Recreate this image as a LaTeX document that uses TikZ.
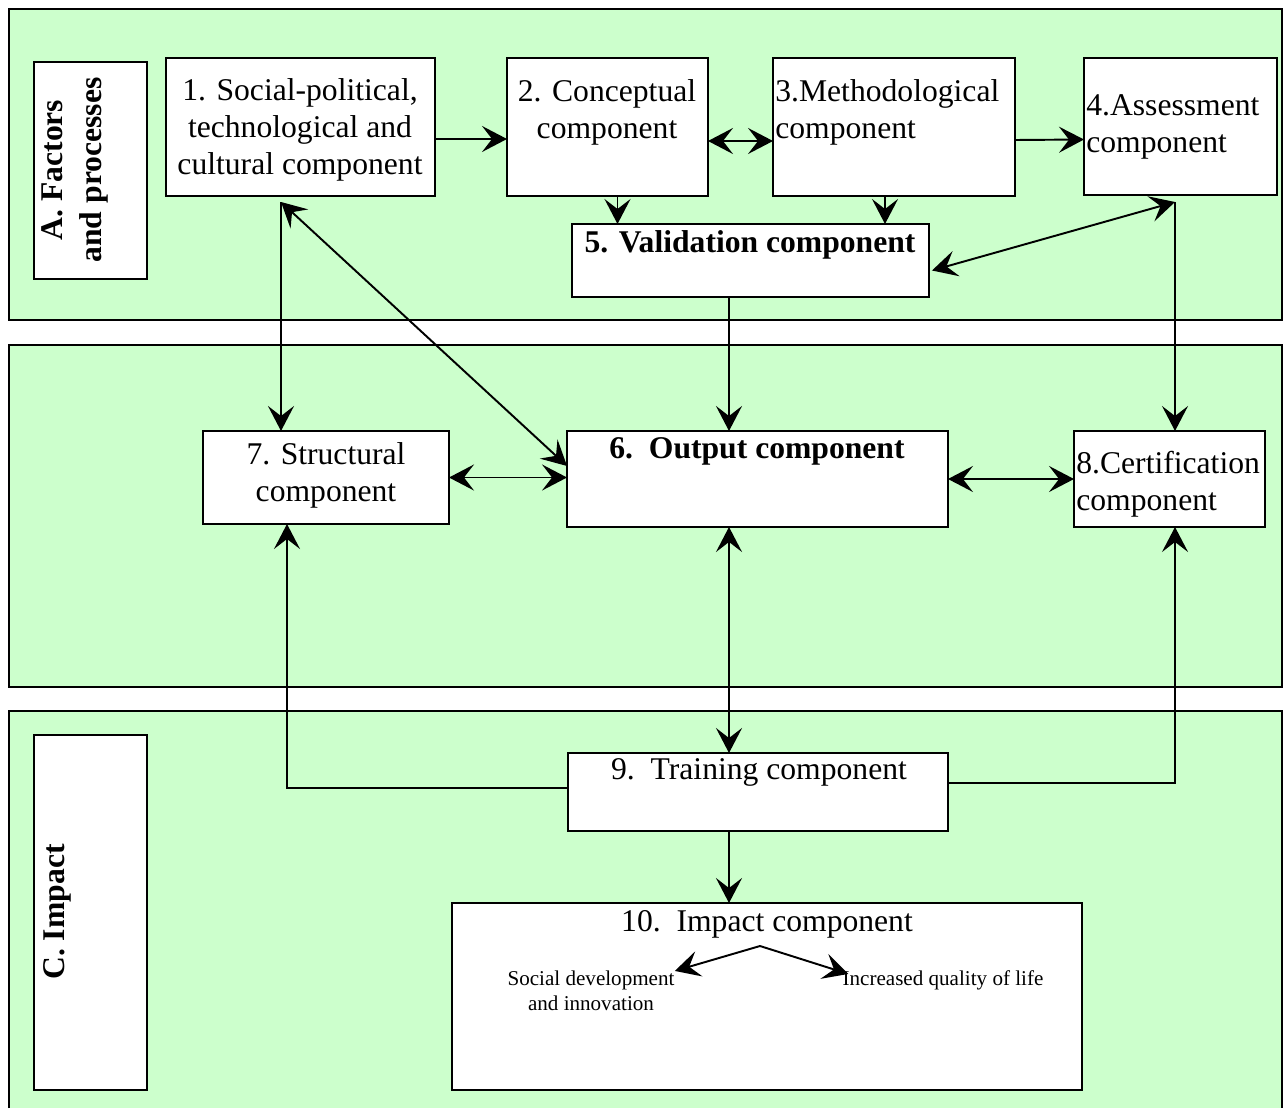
\documentclass[tikz,border=0pt]{standalone}
\usepackage{fontspec}
\setmainfont{Liberation Serif}
\usetikzlibrary{arrows.meta,calc}
\definecolor{panelgreen}{RGB}{204,255,204}

\begin{document}
\begin{tikzpicture}[x=0.02cm,y=-0.02cm,
    >={Stealth[length=0.5cm,width=0.52cm,inset=0.2cm]},
    panel/.style={fill=panelgreen,draw,line width=1.1pt},
    comp/.style={fill=white,draw,line width=1.1pt,inner sep=0pt,outer sep=0pt},
    txt/.style={inner sep=0pt,align=center,font=\fontsize{18}{21}\selectfont},
    boldtxt/.style={txt,font=\fontsize{18}{21}\selectfont\bfseries},
    small/.style={inner sep=0pt,align=center,font=\fontsize{12}{14}\selectfont},
    link/.style={line width=1.1pt}]
      \useasboundingbox (0,0) rectangle (1283,1108);
      % the three bands
      \filldraw[panel] (9,9) rectangle (1282,320);
      \filldraw[panel] (9,345) rectangle (1282,687);
      \fill[panelgreen] (9,711) rectangle (1282,1108);
      \draw[line width=1.1pt] (9,1108) -- (9,711) -- (1282,711) -- (1282,1108);
      % boxes
      \draw
        (90.5,170.5) node[comp,minimum width=2.26cm,minimum height=4.34cm] (la){}
        (90.5,912.5) node[comp,minimum width=2.26cm,minimum height=7.1cm] (lc){}
        (300.5,127) node[comp,minimum width=5.38cm,minimum height=2.76cm] (b1){}
        (607.5,127) node[comp,minimum width=4.02cm,minimum height=2.76cm] (b2){}
        (894,127) node[comp,minimum width=4.84cm,minimum height=2.76cm] (b3){}
        (1180.5,126.5) node[comp,minimum width=3.86cm,minimum height=2.74cm] (b4){}
        (750.5,260.5) node[comp,minimum width=7.14cm,minimum height=1.46cm] (b5){}
        (757.5,479) node[comp,minimum width=7.62cm,minimum height=1.92cm] (b6){}
        (326,477.5) node[comp,minimum width=4.92cm,minimum height=1.86cm] (b7){}
        (1169.5,479) node[comp,minimum width=3.82cm,minimum height=1.92cm] (b8){}
        (758,792) node[comp,minimum width=7.6cm,minimum height=1.56cm] (b9){}
        (767,996.5) node[comp,minimum width=12.6cm,minimum height=3.74cm] (b10){};
      % texts
      \draw
        (75,170) node[txt,rotate=90,font=\fontsize{18}{22}\selectfont\bfseries] (tla){A. Factors\\and processes}
        (57,912) node[txt,rotate=90,font=\fontsize{18}{22}\selectfont\bfseries] (tlc){C. Impact}
        (300,130) node[txt] (t1){1. Social-political,\\technological and\\cultural component}
        (607,112) node[txt] (t2){2. Conceptual\\component}
        (775,112) node[txt,anchor=west,align=left] (t3){3.Methodological\\component}
        (1086,127) node[txt,anchor=west,align=left] (t4){4.Assessment\\component}
        (750,245) node[boldtxt] (t5){5. Validation component}
        (757,451) node[boldtxt] (t6){6.\ \ Output component}
        (326,475) node[txt] (t7){7. Structural\\component}
        (1076,484) node[txt,anchor=west,align=left] (t8){8.Certification\\component}
        (759,772) node[txt] (t9){9.\ \ Training component}
        (767,924) node[txt] (t10){10.\ \ Impact component}
        (591,991) node[small] (tsoc){Social development\\and innovation}
        (943,980) node[small] (tqol){Increased quality of life};
      \coordinate (c1) at (281,202);
      \coordinate (c4) at (1175,202);
      \coordinate (vx) at (729,0);
      \coordinate (apex) at (760,946);
      \begin{scope}[link]
        \draw[->] ($(b1.east)+(0,12)$) -- ($(b2.west)+(0,12)$);
        \draw[<->] ($(b2.east)+(0,14)$) -- ($(b3.west)+(0,14)$);
        \draw[->] ($(b3.east)+(0,13)$) -- ($(b4.west)+(0,13)$);
        \draw[->] ($(b2.south)+(10,0)$) -- ($(b5.north -| b2.south)+(10,0)$);
        \draw[->] ($(b3.south)+(-9,0)$) -- ($(b5.north -| b3.south)+(-9,0)$);
        \draw[<->] ($(b5.east)+(3,10)$) -- (c4);
        \draw[->] (c4) -- (b8.north -| c4);
        \draw[->] (c1) -- (b7.north -| c1);
        \draw[<->] (c1) -- ($(b6.west)+(0,-13)$);
        \draw[->] (b5.south -| vx) -- (b6.north -| vx);
        \draw[<->] (b7.east) -- (b7.east -| b6.west);
        \draw[<->] (b6.east) -- (b6.east -| b8.west);
        \draw[<->] (b6.south -| vx) -- (b9.north -| vx);
        \draw[->] ($(b9.west)+(0,-4)$) -| ($(b7.south)+(-39,0)$);
        \draw[->] ($(b9.east)+(0,-9)$) -| (b8.south -| c4);
        \draw[->] (b9.south -| vx) -- (b10.north -| vx);
        \draw[->] (apex) -- (tsoc.north east);
        \draw[->] (apex) -- ($(tqol.north west)+(6,4)$);
      \end{scope}
    \end{tikzpicture}
\end{document}
